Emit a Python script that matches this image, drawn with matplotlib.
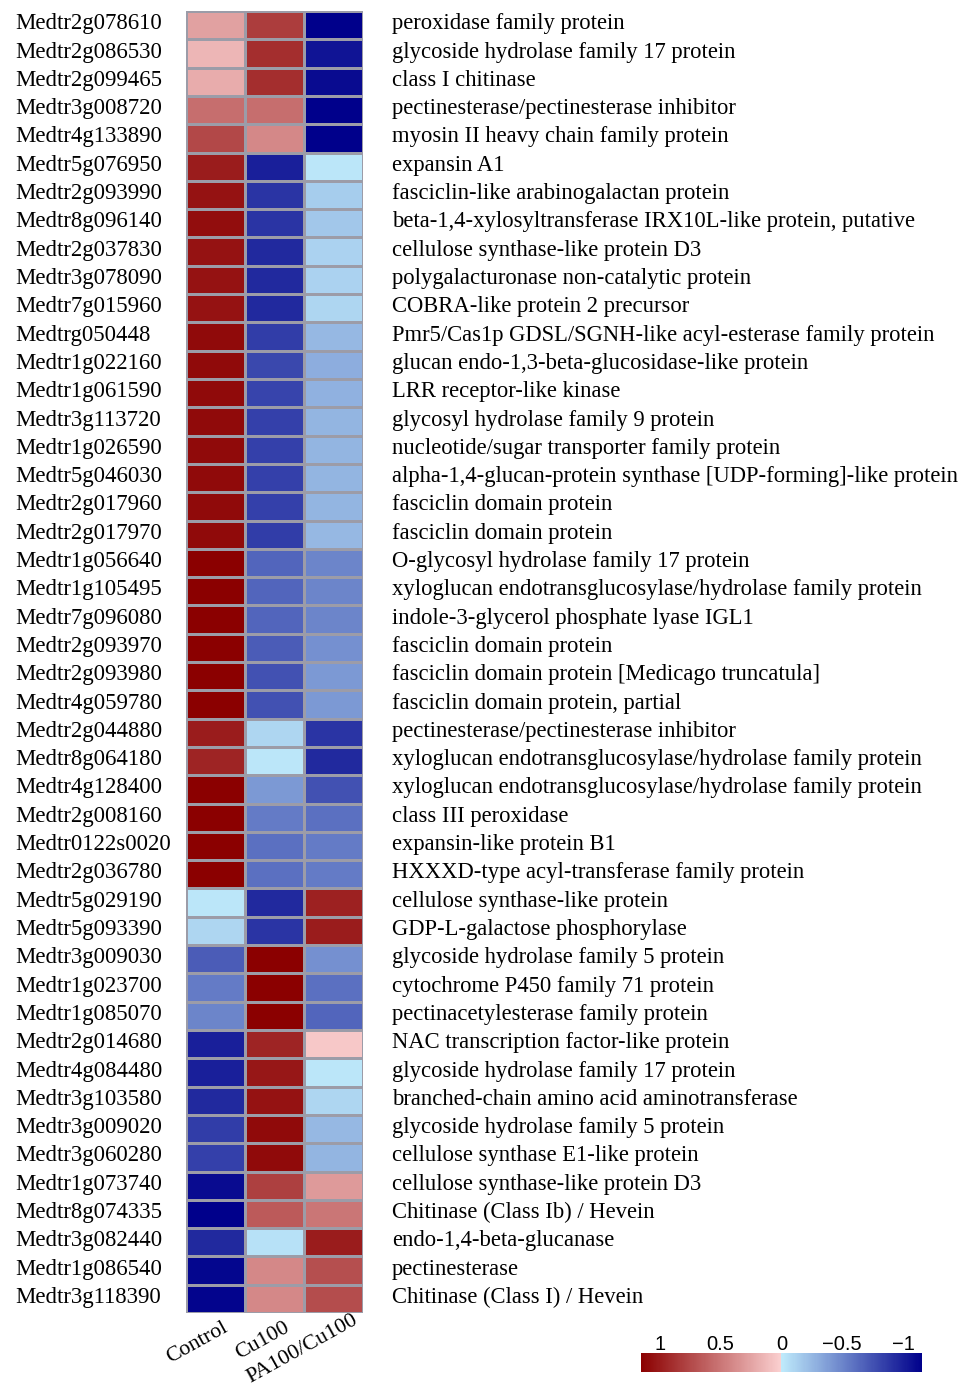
import numpy as np
import matplotlib
matplotlib.use("Agg")
import matplotlib.pyplot as plt
from matplotlib.colors import ListedColormap, Normalize, to_rgb
from matplotlib.colorbar import ColorbarBase
from matplotlib.transforms import blended_transform_factory

genes = ["Medtr2g078610", "Medtr2g086530", "Medtr2g099465", "Medtr3g008720", "Medtr4g133890",
         "Medtr5g076950", "Medtr2g093990", "Medtr8g096140", "Medtr2g037830", "Medtr3g078090",
         "Medtr7g015960", "Medtrg050448", "Medtr1g022160", "Medtr1g061590", "Medtr3g113720",
         "Medtr1g026590", "Medtr5g046030", "Medtr2g017960", "Medtr2g017970", "Medtr1g056640",
         "Medtr1g105495", "Medtr7g096080", "Medtr2g093970", "Medtr2g093980", "Medtr4g059780",
         "Medtr2g044880", "Medtr8g064180", "Medtr4g128400", "Medtr2g008160", "Medtr0122s0020",
         "Medtr2g036780", "Medtr5g029190", "Medtr5g093390", "Medtr3g009030", "Medtr1g023700",
         "Medtr1g085070", "Medtr2g014680", "Medtr4g084480", "Medtr3g103580", "Medtr3g009020",
         "Medtr3g060280", "Medtr1g073740", "Medtr8g074335", "Medtr3g082440", "Medtr1g086540",
         "Medtr3g118390"]

descriptions = ["peroxidase family protein",
                "glycoside hydrolase family 17 protein",
                "class I chitinase",
                "pectinesterase/pectinesterase inhibitor",
                "myosin II heavy chain family protein",
                "expansin A1",
                "fasciclin-like arabinogalactan protein",
                "beta-1,4-xylosyltransferase IRX10L-like protein, putative",
                "cellulose synthase-like protein D3",
                "polygalacturonase non-catalytic protein",
                "COBRA-like protein 2 precursor",
                "Pmr5/Cas1p GDSL/SGNH-like acyl-esterase family protein",
                "glucan endo-1,3-beta-glucosidase-like protein",
                "LRR receptor-like kinase",
                "glycosyl hydrolase family 9 protein",
                "nucleotide/sugar transporter family protein",
                "alpha-1,4-glucan-protein synthase [UDP-forming]-like protein",
                "fasciclin domain protein",
                "fasciclin domain protein",
                "O-glycosyl hydrolase family 17 protein",
                "xyloglucan endotransglucosylase/hydrolase family protein",
                "indole-3-glycerol phosphate lyase IGL1",
                "fasciclin domain protein",
                "fasciclin domain protein [Medicago truncatula]",
                "fasciclin domain protein, partial",
                "pectinesterase/pectinesterase inhibitor",
                "xyloglucan endotransglucosylase/hydrolase family protein",
                "xyloglucan endotransglucosylase/hydrolase family protein",
                "class III peroxidase",
                "expansin-like protein B1",
                "HXXXD-type acyl-transferase family protein",
                "cellulose synthase-like protein",
                "GDP-L-galactose phosphorylase",
                "glycoside hydrolase family 5 protein",
                "cytochrome P450 family 71 protein",
                "pectinacetylesterase family protein",
                "NAC transcription factor-like protein",
                "glycoside hydrolase family 17 protein",
                "branched-chain amino acid aminotransferase",
                "glycoside hydrolase family 5 protein",
                "cellulose synthase E1-like protein",
                "cellulose synthase-like protein D3",
                "Chitinase (Class Ib) / Hevein",
                "endo-1,4-beta-glucanase",
                "pectinesterase",
                "Chitinase (Class I) / Hevein"]

samples = ["Control", "Cu100", "PA100/Cu100"]

# row z-scores
control = [0.27, 0.15, 0.2, 0.55, 0.75,
           1.0, 1.05, 1.08, 1.05, 1.05,
           1.05, 1.1, 1.1, 1.1, 1.1,
           1.1, 1.1, 1.1, 1.1, 1.15,
           1.15, 1.15, 1.15, 1.15, 1.15,
           1.0, 0.95, 1.15, 1.15, 1.15,
           1.15, -0.02, -0.1, -0.7, -0.55,
           -0.5, -1.0, -1.0, -0.95, -0.85,
           -0.83, -1.1, -1.15, -0.95, -1.12,
           -1.13]
cu100 = [0.82, 0.9, 0.9, 0.55, 0.4,
         -1.0, -0.9, -0.9, -0.95, -0.95,
         -0.95, -0.85, -0.8, -0.82, -0.83,
         -0.83, -0.83, -0.83, -0.85, -0.65,
         -0.65, -0.65, -0.7, -0.75, -0.75,
         -0.1, -0.02, -0.4, -0.55, -0.6,
         -0.6, -0.95, -0.9, 1.15, 1.15,
         1.15, 0.95, 1.02, 1.05, 1.1,
         1.1, 0.8, 0.65, -0.05, 0.4,
         0.4]
pa_cu100 = [-1.15, -1.05, -1.1, -1.15, -1.15,
            -0.02, -0.15, -0.18, -0.12, -0.12,
            -0.1, -0.25, -0.3, -0.28, -0.27,
            -0.27, -0.27, -0.27, -0.25, -0.5,
            -0.5, -0.5, -0.45, -0.4, -0.4,
            -0.9, -0.95, -0.75, -0.6, -0.55,
            -0.55, 0.97, 1.0, -0.45, -0.6,
            -0.65, 0.05, -0.02, -0.1, -0.25,
            -0.27, 0.3, 0.5, 1.0, 0.72,
            0.73]

vmax = 2 / np.sqrt(3)

# two-part palette: navy -> light blue | pink -> dark red
n = 128
blue = np.linspace(to_rgb("#00008B"), to_rgb("#BEEAFB"), n)
red = np.linspace(to_rgb("#FBD0D0"), to_rgb("#8B0000"), n)
cmap = ListedColormap(np.vstack([blue, red]))
norm = Normalize(-vmax, vmax)

data = np.column_stack([control, cu100, pa_cu100])

fig = plt.figure(figsize=(9.74, 13.97), dpi=100)
ax = fig.add_axes([0.1907, 0.0601, 0.1823, 0.932])
ax.pcolormesh(data, cmap=cmap, norm=norm, edgecolors="#9c9ca8", linewidth=0.9)
ax.set_xlim(0, 3)
ax.set_ylim(len(genes), 0)
ax.set_xticks([])
ax.set_yticks([])
for s in ax.spines.values():
    s.set_visible(False)

serif = "Liberation Serif"
tr = blended_transform_factory(fig.transFigure, ax.transData)
for i, g in enumerate(genes):
    ax.text(0.016, i + 0.45, g, transform=tr, ha="left", va="center",
            fontsize=16.4, family=serif)
    ax.text(0.4025, i + 0.45, descriptions[i], transform=tr, ha="left", va="center",
            fontsize=16.3, family=serif)

label_dx = [0.11, 0.16, 0.31]
label_dy = [0.2, 0.2, -0.1]
for j, s in enumerate(samples):
    ax.text(j + 0.5 + label_dx[j], len(genes) + label_dy[j], s, ha="right", va="top",
            rotation=29, rotation_mode="anchor", fontsize=15.8, family=serif)

# colour key
cax = fig.add_axes([0.658, 0.0179, 0.2885, 0.0136])
cb = ColorbarBase(cax, cmap=cmap, norm=norm, orientation="horizontal")
cb.outline.set_visible(False)
cax.invert_xaxis()
cax.xaxis.set_ticks_position("top")
cax.set_xticks([1, 0.5, 0, -0.5, -1])
cax.set_xticklabels(["1", "0.5", "0", "\u22120.5", "\u22121"])
cax.tick_params(axis="x", length=0, pad=-1, labelsize=14.5)
for lab in cax.get_xticklabels():
    lab.set_family("Liberation Sans")

fig.savefig("out.png", dpi=100)
